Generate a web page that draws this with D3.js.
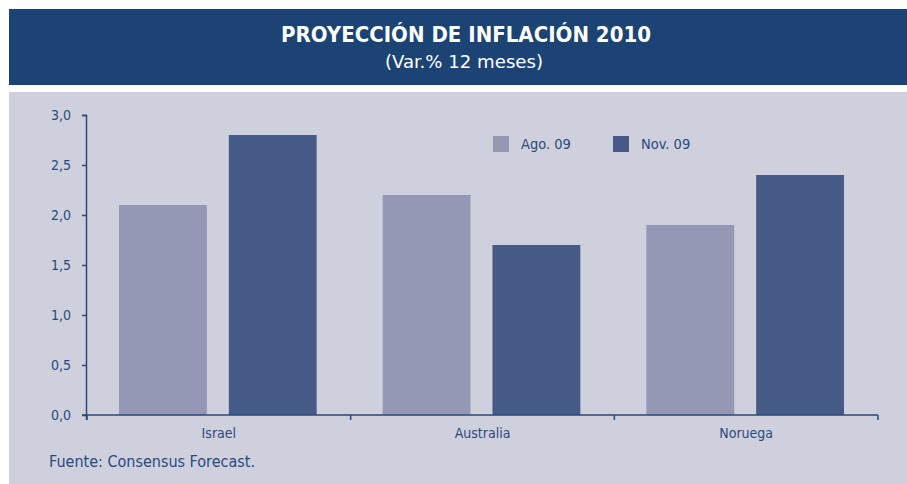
<!DOCTYPE html>
<html>
<head>
<meta charset="utf-8">
<script src="https://cdn.jsdelivr.net/npm/d3@7"></script>
<style>
  body { margin: 0; background: #fff; }
  svg { display: block; }
</style>
</head>
<body>
<div id="canvas"></div>
<script>
const categories = ["Israel", "Australia", "Noruega"];
const seriesNames = ["Ago. 09", "Nov. 09"];
const agoValues = [2.1, 2.2, 1.9];
const novValues = [2.8, 1.7, 2.4];
const yTicks = [0, 0.5, 1, 1.5, 2, 2.5, 3];

const dims = { width: 907, height: 484 };
const margin = { top: 115, left: 87, right: 29, bottom: 69 };
const graphWidth = dims.width - margin.left - margin.right;
const graphHeight = dims.height - margin.top - margin.bottom;

const textColor = "#274a7d";
const font = "'DejaVu Sans Condensed', 'DejaVu Sans', sans-serif";
const colors = d3.scaleOrdinal().domain(seriesNames).range(["#9598b5", "#465a88"]);

const rows = categories.map((c, i) => ({ cat: c, values: [agoValues[i], novValues[i]] }));

const svg = d3
  .select("#canvas")
  .append("svg")
  .attr("width", dims.width)
  .attr("height", dims.height);

// header band
svg.append("rect")
  .attr("x", 9).attr("y", 9)
  .attr("width", dims.width - 9).attr("height", 76)
  .attr("fill", "#1b4474");

svg.append("text")
  .attr("x", 466).attr("y", 42)
  .attr("text-anchor", "middle")
  .attr("fill", "#fff")
  .attr("textLength", 370)
  .attr("lengthAdjust", "spacingAndGlyphs")
  .style("font-family", font)
  .style("font-weight", "bold")
  .style("font-size", "21px")
  .text("PROYECCIÓN DE INFLACIÓN 2010");

svg.append("text")
  .attr("x", 464).attr("y", 68)
  .attr("text-anchor", "middle")
  .attr("fill", "#fff")
  .attr("textLength", 158)
  .attr("lengthAdjust", "spacingAndGlyphs")
  .style("font-family", font)
  .style("font-size", "18px")
  .text("(Var.% 12 meses)");

// gray panel
svg.append("rect")
  .attr("x", 9).attr("y", 92)
  .attr("width", dims.width - 9).attr("height", dims.height - 92)
  .attr("fill", "#cfd0dd");

const graph = svg.append("g")
  .attr("transform", `translate(${margin.left}, ${margin.top})`);

const yScale = d3.scaleLinear().domain([0, 3]).range([graphHeight, 0]);
const xScale = d3.scaleBand().domain(categories).range([0, graphWidth]);
const xInner = d3.scaleBand()
  .domain(seriesNames)
  .range([32, xScale.bandwidth() - 34])
  .paddingInner(0.2);

// bars
const groups = graph.selectAll("g.cat")
  .data(rows)
  .enter()
  .append("g")
  .attr("class", "cat")
  .attr("transform", d => `translate(${xScale(d.cat)}, 0)`);

groups.selectAll("rect")
  .data(d => d.values.map((v, i) => ({ name: seriesNames[i], value: v })))
  .enter()
  .append("rect")
  .attr("x", d => xInner(d.name))
  .attr("width", xInner.bandwidth())
  .attr("y", d => yScale(d.value))
  .attr("height", d => graphHeight - yScale(d.value))
  .attr("fill", d => colors(d.name));

// axes
const yAxis = d3.axisLeft(yScale)
  .tickValues(yTicks)
  .tickSize(5)
  .tickPadding(11)
  .tickFormat(d => d3.format(".1f")(d).replace(".", ","));

const yAxisGroup = graph.append("g").call(yAxis);
yAxisGroup.select(".domain").attr("d", `M-0.5,${graphHeight + 5}V0.5H-5`);

// x axis: ticks at band boundaries
const xAxisGroup = graph.append("g").attr("transform", `translate(0, ${graphHeight})`);
xAxisGroup.append("line")
  .attr("x1", -5).attr("x2", graphWidth)
  .attr("stroke", textColor).attr("stroke-width", 1.5);
const bounds = categories.map(c => xScale(c)).concat([graphWidth]);
xAxisGroup.selectAll("line.tick")
  .data(bounds)
  .enter()
  .append("line")
  .attr("class", "tick")
  .attr("x1", d => d).attr("x2", d => d)
  .attr("y1", 0).attr("y2", 5)
  .attr("stroke", textColor).attr("stroke-width", 1.5);
xAxisGroup.selectAll("text")
  .data(categories)
  .enter()
  .append("text")
  .attr("x", d => xScale(d) + xScale.bandwidth() / 2)
  .attr("y", 23)
  .attr("text-anchor", "middle")
  .attr("fill", textColor)
  .style("font-family", font)
  .style("font-size", "14px")
  .text(d => d);

yAxisGroup.selectAll("path, line").attr("stroke", textColor).attr("stroke-width", 1.5);
yAxisGroup.selectAll("text")
  .attr("fill", textColor)
  .style("font-family", font)
  .style("font-size", "14px");

// legend
const legend = svg.append("g").attr("transform", "translate(493, 136)");
const legendItems = legend.selectAll("g")
  .data(seriesNames)
  .enter()
  .append("g")
  .attr("transform", (d, i) => `translate(${i * 120}, 0)`);
legendItems.append("rect")
  .attr("width", 16).attr("height", 16)
  .attr("fill", d => colors(d));
legendItems.append("text")
  .attr("x", 28).attr("y", 13)
  .attr("fill", textColor)
  .style("font-family", font)
  .style("font-size", "14.5px")
  .text(d => d);

// source
svg.append("text")
  .attr("x", 49).attr("y", 467)
  .attr("fill", textColor)
  .style("font-family", font)
  .style("font-size", "16px")
  .text("Fuente: Consensus Forecast.");
</script>
</body>
</html>
